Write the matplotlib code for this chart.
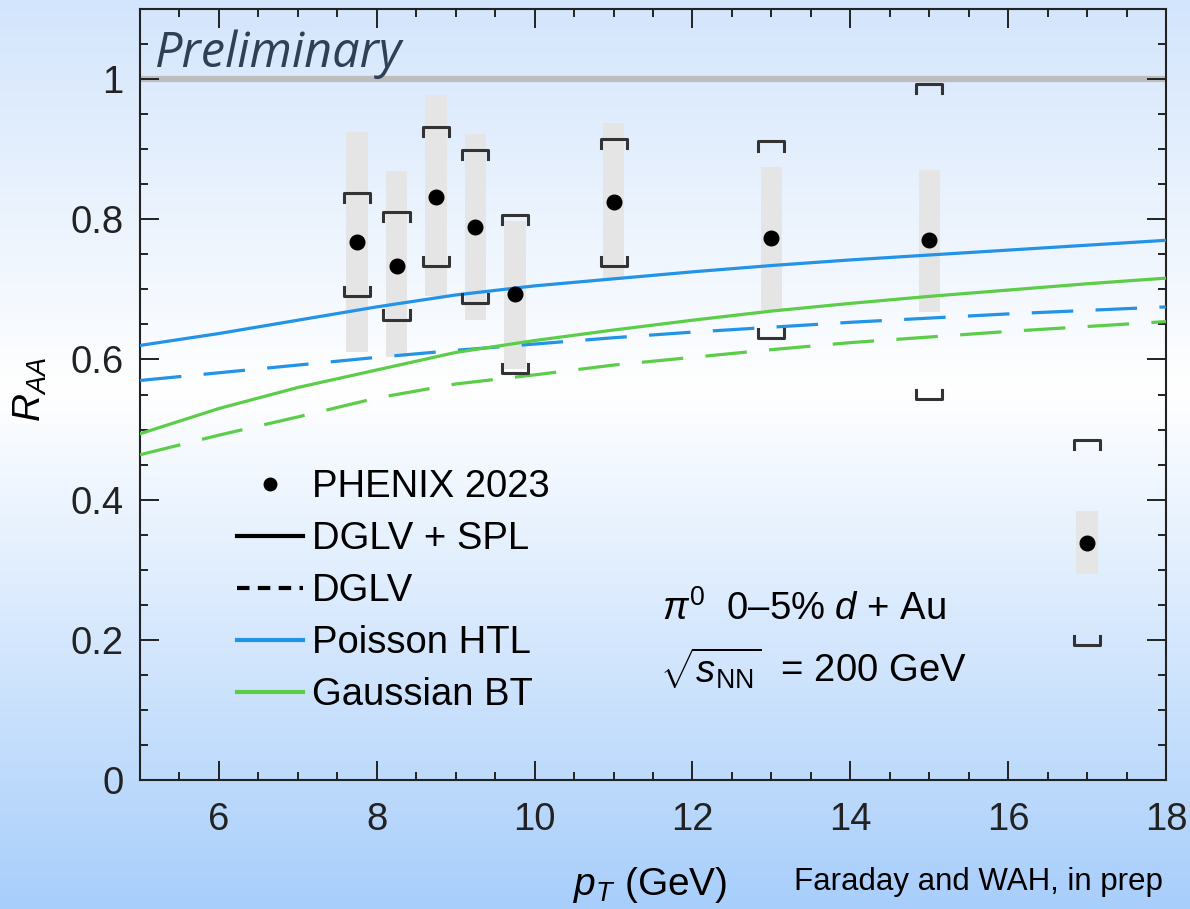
import numpy as np
import matplotlib
matplotlib.use("Agg")
import matplotlib.pyplot as plt
from matplotlib.colors import LinearSegmentedColormap
from matplotlib.lines import Line2D

plt.rcParams['font.family'] = ['Liberation Sans', 'DejaVu Sans']
plt.rcParams['mathtext.fontset'] = 'custom'
plt.rcParams['mathtext.rm'] = 'Liberation Sans'
plt.rcParams['mathtext.it'] = 'Liberation Sans:italic'
plt.rcParams['mathtext.sf'] = 'Liberation Sans'

# PHENIX 2023 pi0 R_dAu, 0-5% central
pt = [7.75, 8.25, 8.75, 9.25, 9.75, 11.0, 13.0, 15.0, 17.0]
raa = [0.767, 0.733, 0.832, 0.789, 0.693, 0.825, 0.773, 0.770, 0.338]
box_lo = [0.611, 0.604, 0.690, 0.657, 0.586, 0.714, 0.670, 0.668, 0.294]
box_hi = [0.924, 0.869, 0.977, 0.921, 0.798, 0.937, 0.875, 0.871, 0.384]
brk_lo = [0.690, 0.657, 0.733, 0.681, 0.581, 0.733, 0.631, 0.544, 0.193]
brk_hi = [0.837, 0.810, 0.932, 0.899, 0.806, 0.915, 0.911, 0.993, 0.485]

# energy loss model curves
pt_th = [5, 6, 7, 8, 9, 10, 11, 12, 13, 14, 15, 16, 17, 18]
htl_spl = [0.620, 0.637, 0.656, 0.675, 0.692, 0.705, 0.715, 0.725, 0.734, 0.742, 0.749, 0.756, 0.763, 0.770]
htl = [0.570, 0.581, 0.592, 0.603, 0.613, 0.622, 0.631, 0.639, 0.646, 0.653, 0.659, 0.665, 0.670, 0.675]
bt_spl = [0.494, 0.530, 0.560, 0.585, 0.610, 0.627, 0.642, 0.656, 0.669, 0.680, 0.690, 0.699, 0.708, 0.716]
bt = [0.464, 0.492, 0.518, 0.545, 0.565, 0.578, 0.592, 0.603, 0.614, 0.624, 0.632, 0.640, 0.647, 0.654]

azul = '#2393e6'
verde = '#5bcd48'

W, H = 1190, 909
fig = plt.figure(figsize=(W / 100, H / 100), dpi=100)

# fondo degradado
fondo = fig.add_axes([0, 0, 1, 1], zorder=-10)
cmap = LinearSegmentedColormap.from_list('fondo', [(0, '#d3e5fc'), (0.43, '#ffffff'), (1.0, '#a8cefb')])
fondo.imshow(np.linspace(0, 1, 256).reshape(-1, 1), aspect='auto', cmap=cmap, extent=[0, 1, 0, 1])
fondo.axis('off')

ax = fig.add_axes([140 / W, 1 - 780 / H, 1026 / W, 771 / H])
ax.patch.set_alpha(0)

ax.axhline(1.0, color='#bdbdbd', lw=4.5, zorder=1)

ax.bar(pt, np.array(box_hi) - np.array(box_lo), bottom=box_lo, width=0.27,
       color='#e5e5e5', zorder=2)

ax.plot(pt_th, htl_spl, color=azul, lw=2.3, zorder=3)
ax.plot(pt_th, htl, color=azul, lw=2.3, dashes=(13, 7), zorder=3)
ax.plot(pt_th, bt_spl, color=verde, lw=2.3, zorder=3)
ax.plot(pt_th, bt, color=verde, lw=2.3, dashes=(13, 7), zorder=3)

w = 0.165
s = 0.013
for x, lo, hi in zip(pt, brk_lo, brk_hi):
    ax.plot([x - w, x - w, x + w, x + w], [hi - s, hi, hi, hi - s], color='#333333', lw=2.2, zorder=4)
    ax.plot([x - w, x - w, x + w, x + w], [lo + s, lo, lo, lo + s], color='#333333', lw=2.2, zorder=4)

ax.plot(pt, raa, 'o', color='black', ms=10.5, zorder=5)

ax.set_xlim(5, 18)
ax.set_ylim(0, 1.1)
ax.set_xticks([6, 8, 10, 12, 14, 16, 18])
ax.set_xticks(np.arange(5, 18.01, 0.5), minor=True)
ax.set_yticks([0, 0.2, 0.4, 0.6, 0.8, 1.0])
ax.set_yticklabels(['0', '0.2', '0.4', '0.6', '0.8', '1'])
ax.set_yticks(np.arange(0, 1.101, 0.05), minor=True)
ax.tick_params(which='both', direction='in', top=True, right=True, width=1.4, colors='#222222')
ax.tick_params(which='major', length=14, labelsize=27.5, pad=12)
ax.tick_params(which='minor', length=6)
ax.tick_params(axis='x', which='major', pad=16)
for sp in ax.spines.values():
    sp.set_linewidth(1.5)
    sp.set_color('#222222')

fig.text(30 / W, 1 - 390 / H, r'$R_{AA}$', fontsize=28, rotation=90, ha='center', va='center')
fig.text(650 / W, 1 - 885 / H, r'$p_T$ (GeV)', fontsize=28, ha='center', va='center')
fig.text(1163 / W, 1 - 890 / H, 'Faraday and WAH, in prep', fontsize=22.5, ha='right', va='baseline')

ax.text(15 / 1026, (780 - 67) / 771, 'Preliminary', transform=ax.transAxes, fontsize=35,
        family='Open Sans', style='italic', color='#2d4056', va='baseline')

fig.text(662 / W, 1 - 620 / H, r'$\pi^0$  0–5% $d$ + Au', fontsize=27.5, va='baseline')
fig.text(660 / W, 1 - 683 / H, r'$\sqrt{s_{\rm NN}}$  = 200 GeV', fontsize=27.5, va='baseline')

handles = [
    Line2D([], [], ls='none', marker='o', color='black', ms=9),
    Line2D([], [], color='black', lw=3),
    Line2D([], [], color='black', lw=3, dashes=(3, 2)),
    Line2D([], [], color=azul, lw=3),
    Line2D([], [], color=verde, lw=3),
]
etiquetas = ['PHENIX 2023', 'DGLV + SPL', 'DGLV', 'Poisson HTL', 'Gaussian BT']
ax.legend(handles, etiquetas, loc='upper left', bbox_to_anchor=(0.0945, 0.403),
          frameon=False, fontsize=27.5, handlelength=1.72, handletextpad=0.25,
          labelspacing=0.42, borderpad=0, borderaxespad=0)

fig.savefig('out.png', dpi=100)
